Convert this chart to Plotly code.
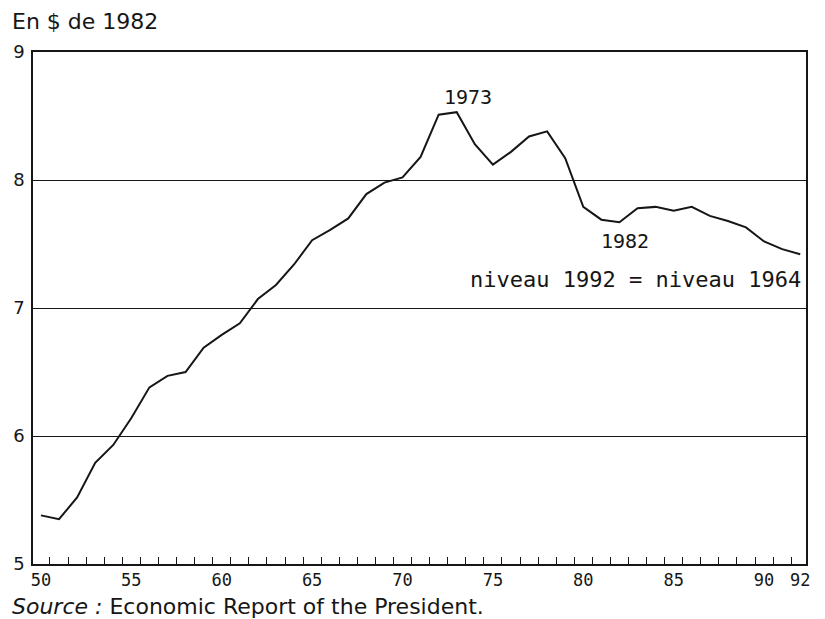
import plotly.graph_objects as go

# years 1950-1992, value in $ of 1982
years = list(range(1950, 1993))
values = [5.38, 5.35, 5.52, 5.79, 5.93, 6.14, 6.38, 6.47, 6.50, 6.69,
          6.79, 6.88, 7.07, 7.18, 7.34, 7.53, 7.61, 7.70, 7.89, 7.98,
          8.02, 8.18, 8.51, 8.53, 8.28, 8.12, 8.22, 8.34, 8.38, 8.17,
          7.79, 7.69, 7.67, 7.78, 7.79, 7.76, 7.79, 7.72, 7.68, 7.63,
          7.52, 7.46, 7.42]

xtick_vals = [1950, 1955, 1960, 1965, 1970, 1975, 1980, 1985, 1990, 1992]
xtick_text = ["50", "55", "60", "65", "70", "75", "80", "85", "90", "92"]
ytick_vals = [5, 6, 7, 8, 9]

ink = "#161616"

fig = go.Figure()
fig.add_trace(go.Scatter(x=years, y=values, mode="lines",
                         line=dict(color=ink, width=2), showlegend=False))

# the page body has an 8px margin, so the figure is 8px smaller
fig.update_layout(
    width=817, height=611,
    margin=dict(l=25, r=19, t=44, b=55, autoexpand=False),
    paper_bgcolor="white", plot_bgcolor="white",
    xaxis=dict(range=[1949.56, 1992.32], tickvals=xtick_vals, ticktext=xtick_text,
               showgrid=False, zeroline=False, showline=True, mirror=True,
               linecolor=ink, linewidth=1.5, ticks="", automargin=False,
               tickfont=dict(family="DejaVu Sans Mono", size=17, color=ink),
               minor=dict(tick0=1950.5, dtick=1, ticks="inside", ticklen=7,
                          tickcolor=ink, tickwidth=1.2, showgrid=False)),
    yaxis=dict(range=[5, 9], tickvals=ytick_vals, showgrid=True,
               gridcolor=ink, gridwidth=1, zeroline=False, showline=True,
               mirror=True, linecolor=ink, linewidth=1.5, ticks="",
               automargin=False, ticklabelstandoff=3,
               tickfont=dict(family="DejaVu Sans", size=18, color=ink)),
)

fig.add_annotation(text="En $ de 1982", xref="paper", yref="paper",
                   x=-0.030, y=1.0586, xanchor="left", yanchor="middle",
                   showarrow=False, font=dict(family="DejaVu Sans", size=22, color=ink))
fig.add_annotation(text="<i>Source :</i> Economic Report of the President.",
                   xref="paper", yref="paper", x=-0.030, y=-0.083,
                   xanchor="left", yanchor="middle", showarrow=False,
                   font=dict(family="DejaVu Sans", size=22, color=ink))
fig.add_annotation(text="1973", x=1973.6, y=8.65, showarrow=False,
                   font=dict(family="DejaVu Sans Mono", size=20, color=ink))
fig.add_annotation(text="1982", x=1982.3, y=7.52, showarrow=False,
                   font=dict(family="DejaVu Sans Mono", size=20, color=ink))
fig.add_annotation(text="niveau 1992 = niveau 1964", x=1992.15, y=7.22,
                   xanchor="right", showarrow=False,
                   font=dict(family="DejaVu Sans Mono", size=22, color=ink))

fig.write_html("out.html")
